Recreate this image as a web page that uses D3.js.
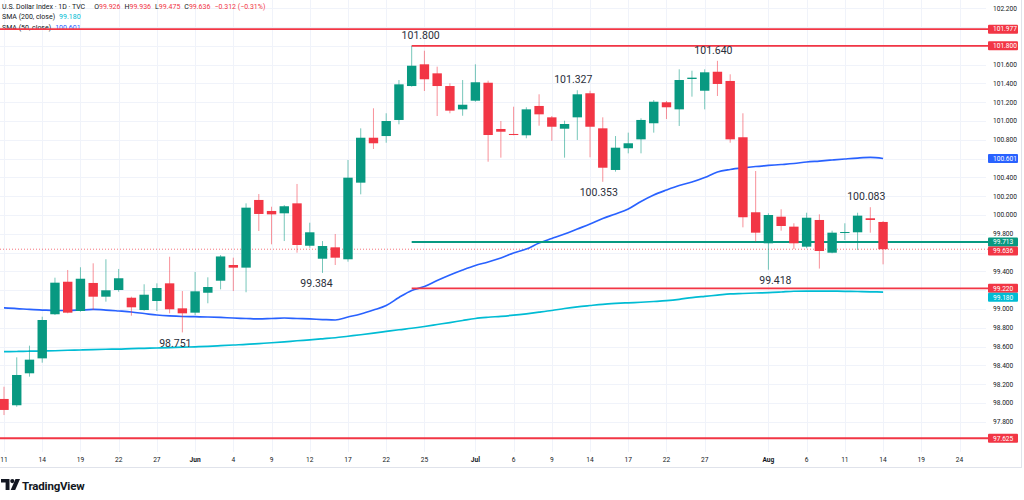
<!DOCTYPE html>
<meta charset="utf-8">
<body style="margin:0;background:#fff">
<script src="https://cdn.jsdelivr.net/npm/d3@7/dist/d3.min.js"></script>
<style>
svg { font-family: Roboto, "Liberation Sans", Arial, sans-serif; display:block; }
</style>
<svg id="chart" width="1024" height="500"></svg>
<script>
// daily candles, May 11 .. Aug 14
var opens  = [98.043,97.976,98.316,98.475,98.944,99.290,98.979,99.277,99.131,99.202,
              99.120,98.989,99.085,99.273,99.007,98.961,99.173,99.301,99.468,99.440,
              100.160,100.043,100.018,100.124,99.673,99.535,99.656,99.529,100.344,100.822,
              100.840,101.011,101.372,101.603,101.507,101.372,101.124,101.216,101.407,100.915,
              100.862,100.848,101.160,101.039,100.918,101.039,101.295,100.922,100.479,100.710,
              100.805,100.976,101.199,101.124,101.447,101.322,101.524,101.426,100.827,100.029,
              99.699,99.982,99.876,99.663,99.947,99.599,99.812,99.816,99.965,99.926];
var highs  = [98.173,98.486,98.610,98.918,99.333,99.415,99.444,99.486,99.529,99.426,
              99.131,99.263,99.273,99.556,99.191,99.394,99.337,99.574,99.546,100.124,
              100.223,100.088,100.106,100.330,99.918,99.723,99.798,100.585,100.922,101.135,
              101.082,101.436,101.800,101.748,101.578,101.401,101.436,101.603,101.429,101.000,
              101.152,101.146,101.284,101.053,101.003,101.327,101.322,101.039,100.840,100.876,
              101.029,101.223,101.213,101.550,101.535,101.550,101.640,101.497,101.082,100.468,
              100.018,100.061,99.912,100.024,100.007,99.833,99.912,100.024,100.083,99.936];
var lows   = [97.872,97.960,98.280,98.429,98.936,98.954,98.971,98.989,99.078,99.184,
              98.929,98.982,98.979,98.954,98.751,98.936,99.061,99.209,99.191,99.178,
              99.830,99.688,99.723,99.599,99.652,99.384,99.468,99.503,100.220,100.702,
              100.769,100.965,101.365,101.319,101.053,101.082,101.056,101.205,100.567,100.610,
              100.848,100.816,100.950,100.790,100.610,100.798,100.614,100.353,100.461,100.656,
              100.656,100.876,101.021,100.947,101.259,101.124,101.266,100.769,99.869,99.716,
              99.418,99.833,99.638,99.646,99.430,99.593,99.734,99.628,99.812,99.475];
var closes = [97.926,98.298,98.461,98.883,99.280,98.961,99.322,99.131,99.199,99.327,
              99.018,99.152,99.223,98.997,98.954,99.188,99.234,99.559,99.440,100.078,
              100.011,100.007,100.093,99.681,99.816,99.670,99.546,100.397,100.822,100.763,
              101.000,101.390,101.588,101.444,101.372,101.110,101.173,101.412,100.851,100.886,
              100.851,101.124,101.071,100.939,100.968,101.284,100.939,100.503,100.716,100.763,
              101.011,101.205,101.146,101.436,101.461,101.518,101.394,100.805,99.976,99.812,
              100.000,99.883,99.699,99.971,99.617,99.812,99.819,99.993,99.947,99.636];

var sma50  = [99.011,99.005,98.995,98.989,98.984,98.984,98.989,98.995,98.989,98.979,
              98.968,98.952,98.936,98.926,98.920,98.918,98.915,98.910,98.904,98.899,
              98.894,98.899,98.904,98.899,98.894,98.888,98.883,98.915,98.947,98.989,
              99.037,99.122,99.197,99.239,99.303,99.362,99.415,99.463,99.500,99.543,
              99.596,99.638,99.702,99.750,99.798,99.851,99.904,99.963,100.011,100.064,
              100.144,100.213,100.266,100.314,100.351,100.399,100.457,100.484,100.502,100.516,
              100.527,100.537,100.548,100.564,100.574,100.585,100.596,100.606,100.612,100.601];
var sma200 = [98.546,98.548,98.551,98.553,98.556,98.561,98.564,98.568,98.572,98.574,
              98.579,98.582,98.585,98.589,98.594,98.598,98.603,98.610,98.617,98.623,
              98.632,98.641,98.651,98.662,98.672,98.683,98.694,98.710,98.726,98.743,
              98.761,98.779,98.795,98.814,98.835,98.856,98.878,98.899,98.912,98.922,
              98.934,98.949,98.966,98.984,99.005,99.023,99.037,99.050,99.059,99.066,
              99.072,99.080,99.089,99.103,99.122,99.135,99.147,99.160,99.165,99.170,
              99.174,99.181,99.189,99.191,99.191,99.190,99.188,99.186,99.183,99.180];

var tickDates  = ["2026-05-11","2026-05-14","2026-05-19","2026-05-22","2026-05-27","2026-06-01",
                  "2026-06-04","2026-06-09","2026-06-12","2026-06-17","2026-06-22","2026-06-25",
                  "2026-07-01","2026-07-06","2026-07-09","2026-07-14","2026-07-17","2026-07-22",
                  "2026-07-27","2026-08-03","2026-08-06","2026-08-11","2026-08-14","2026-08-19",
                  "2026-08-24"];
var tickLabels = ["11","14","19","22","27","Jun","4","9","12","17","22","25",
                  "Jul","6","9","14","17","22","27","Aug","6","11","14","19","24"];
var priceTicks = [97.8,98.0,98.2,98.4,98.6,98.8,99.0,99.2,99.4,99.6,99.8,100.0,
                  100.2,100.4,100.6,100.8,101.0,101.2,101.4,101.6,101.8,102.0,102.2];

// horizontal levels drawn on the chart
var levelValues = [101.977, 101.800, 99.713, 99.220, 97.625];
var levelStart  = [null, "2026-06-24", "2026-06-24", "2026-06-24", null];
var levelKind   = ["res", "res", "sup", "res", "res"];

// high / low call-outs
var noteValues = [101.800, 101.327, 101.640, 100.353, 100.083, 99.418, 99.384, 98.751];
var noteDates  = ["2026-06-24","2026-07-13","2026-07-28","2026-07-15","2026-08-13",
                  "2026-08-03","2026-06-15","2026-05-29"];
var noteSide   = ["up","up","up","down","up","down","down","down"];

var last = {o: 99.926, h: 99.936, l: 99.475, c: 99.636, chg: "\u22120.312 (\u22120.31%)"};

var GREEN = "#089981", RED = "#f23645", BLUE = "#2962ff", CYAN = "#00bcd4";
var TXT = "#131722", GRID = "#f0f3fa";

var svg = d3.select("#chart");

var fmtDay = d3.utcFormat("%Y-%m-%d");
var days = d3.utcDay.range(new Date(Date.UTC(2026, 4, 11)), new Date(Date.UTC(2026, 7, 25)))
  .filter(function (d) { return d.getUTCDay() % 6 !== 0; })
  .map(fmtDay);

var x = d3.scalePoint().domain(days).range([4, 959.5]);
var y = d3.scaleLinear().domain([97.6, 102.2]).range([440.6, 8.2]);

var candles = opens.map(function (o, i) {
  return {d: days[i], o: o, h: highs[i], l: lows[i], c: closes[i]};
});

// grid
svg.append("g").selectAll("line").data(priceTicks).join("line")
  .attr("x1", 0).attr("x2", 986)
  .attr("y1", function (d) { return Math.round(y(d)) + 0.5; })
  .attr("y2", function (d) { return Math.round(y(d)) + 0.5; })
  .attr("stroke", GRID);
svg.append("g").selectAll("line").data(tickDates).join("line")
  .attr("x1", function (d) { return Math.round(x(d)) + 0.5; })
  .attr("x2", function (d) { return Math.round(x(d)) + 0.5; })
  .attr("y1", 0).attr("y2", 452)
  .attr("stroke", GRID);

// frame
svg.append("line").attr("x1", 0).attr("x2", 1022).attr("y1", 467.5).attr("y2", 467.5).attr("stroke", "#e0e3eb");
svg.append("line").attr("x1", 1021.5).attr("x2", 1021.5).attr("y1", 0).attr("y2", 468).attr("stroke", "#e0e3eb");

// price axis boxes (values that get a coloured tag)
var tags = [
  {v: 101.977, c: RED}, {v: 101.800, c: RED}, {v: sma50[sma50.length - 1], c: BLUE},
  {v: 99.713, c: GREEN}, {v: last.c, c: RED}, {v: 99.220, c: RED},
  {v: sma200[sma200.length - 1], c: CYAN}, {v: 97.625, c: RED}
];
var boxH = 9;
tags.sort(function (a, b) { return b.v - a.v; });
var prev = -100;
tags.forEach(function (t) {
  t.y = Math.max(y(t.v), prev + boxH);
  prev = t.y;
});

// price tick labels, skipping the ones hidden under a tag
var visTicks = priceTicks.filter(function (p) {
  return !tags.some(function (t) { return Math.abs(t.y - y(p)) < 5; });
});
svg.append("g").selectAll("text").data(visTicks).join("text")
  .attr("x", 993).attr("y", function (d) { return y(d); })
  .attr("dy", "0.35em")
  .attr("font-size", 6.6).attr("fill", TXT)
  .text(function (d) { return d.toFixed(3); });

// time labels
svg.append("g").selectAll("text").data(tickDates).join("text")
  .attr("x", function (d) { return x(d); }).attr("y", 460)
  .attr("dy", "0.35em").attr("text-anchor", "middle")
  .attr("font-size", 6.6).attr("fill", TXT)
  .attr("font-weight", function (d, i) { return isNaN(+tickLabels[i]) ? 700 : 400; })
  .text(function (d, i) { return tickLabels[i]; });

// legend
var legend = svg.append("g").attr("font-size", 7);
var l1 = legend.append("text").attr("x", 2).attr("y", 8.5).attr("fill", TXT);
l1.append("tspan").text("U.S. Dollar Index \u00b7 1D \u00b7 TVC");
[["O", last.o], ["H", last.h], ["L", last.l], ["C", last.c]].forEach(function (p, i) {
  l1.append("tspan").attr("dx", i ? 4 : 9).attr("fill", TXT).text(p[0]);
  l1.append("tspan").attr("fill", RED).text(p[1].toFixed(3));
});
l1.append("tspan").attr("dx", 4).attr("fill", RED).text(last.chg);
var l2 = legend.append("text").attr("x", 2).attr("y", 19).attr("fill", TXT);
l2.append("tspan").text("SMA (200, close)");
l2.append("tspan").attr("dx", 4).attr("fill", CYAN).text(sma200[sma200.length - 1].toFixed(3));
var l3 = legend.append("text").attr("x", 2).attr("y", 29.5).attr("fill", TXT);
l3.append("tspan").text("SMA (50, close)");
l3.append("tspan").attr("dx", 4).attr("fill", BLUE).text(sma50[sma50.length - 1].toFixed(3));

// current price dotted line
svg.append("line")
  .attr("x1", 0).attr("x2", 988)
  .attr("y1", y(last.c)).attr("y2", y(last.c))
  .attr("stroke", RED).attr("stroke-opacity", 0.7)
  .attr("stroke-dasharray", "1,2");

// moving averages
var line = function (arr) {
  return d3.line()
    .x(function (d, i) { return x(days[i]); })
    .y(function (d) { return y(d); })
    .curve(d3.curveMonotoneX)(arr);
};
svg.append("path").attr("d", line(sma200)).attr("fill", "none").attr("stroke", CYAN).attr("stroke-width", 1.7);
svg.append("path").attr("d", line(sma50)).attr("fill", "none").attr("stroke", BLUE).attr("stroke-width", 1.7);

// levels
svg.append("g").selectAll("line").data(levelValues).join("line")
  .attr("x1", function (d, i) { return levelStart[i] ? x(levelStart[i]) : 0; })
  .attr("x2", 988)
  .attr("y1", function (d) { return y(d); })
  .attr("y2", function (d) { return y(d); })
  .attr("stroke", function (d, i) { return levelKind[i] === "sup" ? GREEN : RED; })
  .attr("stroke-width", 1.8);

// candles
var bw = 9.4;
var cg = svg.append("g").selectAll("g").data(candles).join("g")
  .attr("transform", function (d) { return "translate(" + x(d.d) + ",0)"; });
cg.append("line")
  .attr("y1", function (d) { return y(d.h); })
  .attr("y2", function (d) { return y(d.l); })
  .attr("stroke", function (d) { return d.c >= d.o ? GREEN : RED; })
  .attr("stroke-opacity", 0.55)
  .attr("stroke-width", 1);
cg.append("rect")
  .attr("x", -bw / 2).attr("width", bw)
  .attr("y", function (d) { return y(Math.max(d.o, d.c)); })
  .attr("height", function (d) { return Math.max(1, Math.abs(y(d.o) - y(d.c))); })
  .attr("fill", function (d) { return d.c >= d.o ? GREEN : RED; });

// call-outs
var nudge = [9, -4, -4, -4, -4, 7, -6, -7];
svg.append("g").selectAll("text").data(noteValues).join("text")
  .attr("x", function (d, i) { return x(noteDates[i]) + nudge[i]; })
  .attr("y", function (d, i) { return y(d) + (noteSide[i] === "up" ? -10.5 : 10.5); })
  .attr("dy", "0.35em").attr("text-anchor", "middle")
  .attr("font-size", 10.5).attr("fill", "#2a2e39")
  .text(function (d) { return d.toFixed(3); });

// tags on the price axis
var tg = svg.append("g").selectAll("g").data(tags).join("g");
tg.append("rect")
  .attr("x", 988).attr("width", 30)
  .attr("y", function (d) { return d.y - boxH / 2; })
  .attr("height", boxH).attr("rx", 1)
  .attr("fill", function (d) { return d.c; });
tg.append("text")
  .attr("x", 993).attr("y", function (d) { return d.y; })
  .attr("dy", "0.35em")
  .attr("font-size", 6.6).attr("fill", "#fff")
  .text(function (d) { return d.v.toFixed(3); });

// TradingView mark
var logo = svg.append("g").attr("transform", "translate(1,479)").attr("fill", "#131722");
logo.append("path").attr("d", "M0,0 H8.5 V11 H4.6 V3.6 H0 Z");
logo.append("circle").attr("cx", 11.3).attr("cy", 2.1).attr("r", 2.1);
logo.append("path").attr("d", "M14.5,0 H19 L14.2,11 H9.7 Z");
svg.append("text").attr("x", 22).attr("y", 489.5)
  .attr("font-size", 11.5).attr("font-weight", 700).attr("fill", "#131722")
  .attr("letter-spacing", -0.2)
  .text("TradingView");
</script>
</body>
